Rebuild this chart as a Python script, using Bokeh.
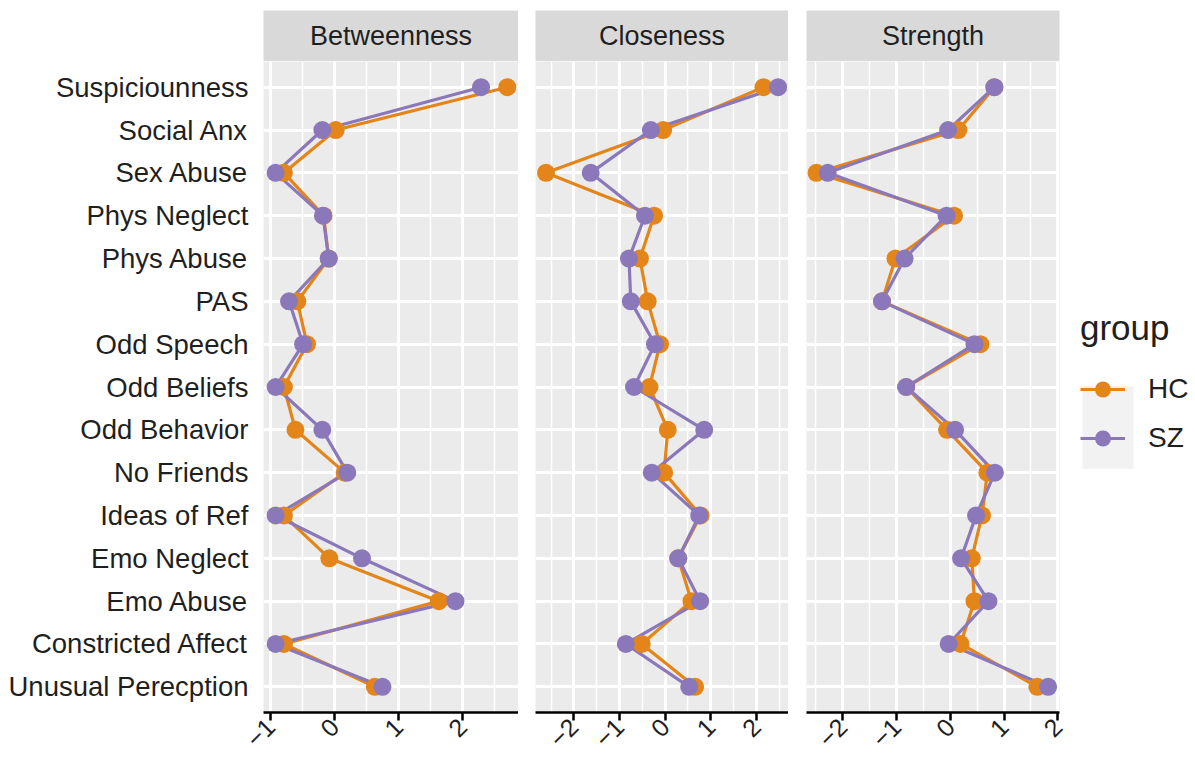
import math
from bokeh.plotting import figure
from bokeh.models import Range1d, FixedTicker, Legend, LegendItem, ColumnDataSource
from bokeh.layouts import column, row
from bokeh.embed import file_html
from bokeh.resources import INLINE
from bokeh.core.properties import value

# ---------------- data ----------------
nodes = ["Suspiciounness", "Social Anx", "Sex Abuse", "Phys Neglect", "Phys Abuse",
         "PAS", "Odd Speech", "Odd Beliefs", "Odd Behavior", "No Friends",
         "Ideas of Ref", "Emo Neglect", "Emo Abuse", "Constricted Affect",
         "Unusual Perecption"]
measures = ["Betweenness", "Closeness", "Strength"]
groups = ["HC", "SZ"]

betweenness_hc = [2.70, 0.02, -0.79, -0.17, -0.09, -0.58, -0.43, -0.79, -0.61, 0.16, -0.79, -0.08, 1.63, -0.79, 0.63]
betweenness_sz = [2.29, -0.19, -0.92, -0.18, -0.09, -0.71, -0.49, -0.92, -0.19, 0.20, -0.92, 0.43, 1.89, -0.92, 0.75]
closeness_hc = [2.16, -0.04, -2.61, -0.24, -0.55, -0.38, -0.11, -0.34, 0.06, -0.02, 0.78, 0.29, 0.58, -0.51, 0.66]
closeness_sz = [2.48, -0.31, -1.63, -0.44, -0.79, -0.75, -0.22, -0.68, 0.86, -0.29, 0.75, 0.29, 0.77, -0.86, 0.53]
strength_hc = [0.82, 0.15, -2.49, 0.07, -1.02, -1.27, 0.56, -0.82, -0.06, 0.69, 0.59, 0.40, 0.45, 0.19, 1.62]
strength_sz = [0.82, -0.04, -2.28, -0.07, -0.85, -1.27, 0.45, -0.82, 0.09, 0.83, 0.48, 0.20, 0.71, -0.03, 1.82]

ticks_betweenness = [-1, 0, 1, 2]
minor_betweenness = [-0.5, 0.5, 1.5, 2.5]
ticks_other = [-2, -1, 0, 1, 2]
minor_other = [-2.5, -1.5, -0.5, 0.5, 1.5, 2.5]

# ---------------- style ----------------
FONT = "Liberation Sans"
TEXT = "#1f1f1f"
PANEL_BG = "#EBEBEB"
STRIP_BG = "#D9D9D9"
KEY_BG = "#F2F2F2"
COLORS = {"HC": "#E38518", "SZ": "#8A78BA"}

n = len(nodes)
ypos = [n - 1 - i for i in range(n)]

STRIP_TOP = 10
STRIP_H = 51
FRAME_H = 658
BOTTOM = 39
PAD_RIGHT_LAST = 10
LEGEND_W = 126

panels = [
    dict(name=measures[0], hc=betweenness_hc, sz=betweenness_sz, xr=(-1.109, 2.875),
         ticks=ticks_betweenness, minor=minor_betweenness, left=263, frame_w=255, right=0),
    dict(name=measures[1], hc=closeness_hc, sz=closeness_sz, xr=(-2.84, 2.708),
         ticks=ticks_other, minor=minor_other, left=17, frame_w=253, right=0),
    dict(name=measures[2], hc=strength_hc, sz=strength_sz, xr=(-2.675, 2.032),
         ticks=ticks_other, minor=minor_other, left=18, frame_w=253, right=PAD_RIGHT_LAST),
]

strip_figs = []
panel_figs = []
for i, spec in enumerate(panels):
    w = spec["left"] + spec["frame_w"] + spec["right"]
    # strip header
    s = figure(width=w, height=STRIP_TOP + STRIP_H, x_range=Range1d(0, 1), y_range=Range1d(0, 1),
               output_backend="svg", toolbar_location=None,
               min_border_left=spec["left"], min_border_right=spec["right"],
               min_border_top=STRIP_TOP, min_border_bottom=0)
    s.axis.visible = False
    s.grid.visible = False
    s.outline_line_color = None
    s.background_fill_color = STRIP_BG
    s.text(x=[0.5], y=[0.5], text=[spec["name"]], text_align="center", text_baseline="middle",
           text_font=value(FONT), text_font_size="27px", text_color=TEXT)
    strip_figs.append(s)

    # panel
    p = figure(width=w, height=FRAME_H + BOTTOM,
               x_range=Range1d(*spec["xr"]), y_range=Range1d(-0.6, n - 0.4),
               output_backend="svg", toolbar_location=None,
               min_border_left=spec["left"], min_border_right=spec["right"],
               min_border_top=0, min_border_bottom=BOTTOM)
    p.background_fill_color = PANEL_BG
    p.border_fill_color = "white"
    p.outline_line_color = None

    xt = FixedTicker(ticks=spec["ticks"], minor_ticks=spec["minor"])
    p.xaxis.ticker = xt
    p.xgrid.ticker = xt
    yt = FixedTicker(ticks=ypos)
    p.yaxis.ticker = yt
    p.ygrid.ticker = yt

    p.xgrid.grid_line_color = "white"
    p.xgrid.grid_line_width = 3
    p.xgrid.minor_grid_line_color = "white"
    p.xgrid.minor_grid_line_width = 1.5
    p.ygrid.grid_line_color = "white"
    p.ygrid.grid_line_width = 3

    ax = p.xaxis[0]
    ax.axis_line_color = "black"
    ax.axis_line_width = 2.5
    ax.major_tick_line_color = "black"
    ax.major_tick_line_width = 2.5
    ax.major_tick_out = 8
    ax.major_tick_in = 0
    ax.minor_tick_line_color = None
    ax.major_label_orientation = math.pi / 4
    ax.major_label_standoff = 2
    ax.major_label_text_font = FONT
    ax.major_label_text_font_size = "25px"
    ax.major_label_text_color = TEXT

    ay = p.yaxis[0]
    if i == 0:
        ay.major_label_overrides = {yv: name for yv, name in zip(ypos, nodes)}
        ay.axis_line_color = None
        ay.major_tick_line_color = None
        ay.minor_tick_line_color = None
        ay.major_tick_out = 0
        ay.major_tick_in = 0
        ay.major_label_standoff = 15
        ay.major_label_text_font = FONT
        ay.major_label_text_font_size = "27.5px"
        ay.major_label_text_color = TEXT
    else:
        ay.visible = False

    src = ColumnDataSource(dict(y=ypos, hc=spec["hc"], sz=spec["sz"]))
    p.line(x="hc", y="y", source=src, line_color=COLORS["HC"], line_width=3.2)
    p.line(x="sz", y="y", source=src, line_color=COLORS["SZ"], line_width=3.2)
    p.scatter(x="hc", y="y", source=src, size=18, fill_color=COLORS["HC"], line_color=None)
    p.scatter(x="sz", y="y", source=src, size=18, fill_color=COLORS["SZ"], line_color=None)
    panel_figs.append(p)

# ---------------- legend column ----------------
LG_H = FRAME_H + BOTTOM
LEG_X, LEG_Y, LEG_PAD = 11, 254, 5
GLYPH_W, ITEM_H, ITEM_SP = 45, 40, 9

lg = figure(width=LEGEND_W, height=LG_H, x_range=Range1d(0, LEGEND_W), y_range=Range1d(0, LG_H),
            output_backend="svg", toolbar_location=None,
            min_border_left=0, min_border_right=0, min_border_top=0, min_border_bottom=0)
lg.axis.visible = False
lg.grid.visible = False
lg.outline_line_color = None
lg.background_fill_color = "white"

# light grey key background (as ggplot legend keys)
key_left = LEG_X + LEG_PAD - 3
key_right = LEG_X + LEG_PAD + GLYPH_W + 3
key_bottom = LEG_Y + LEG_PAD + 2
key_top = LEG_Y + LEG_PAD + 2 * ITEM_H + ITEM_SP + 1
lg.quad(left=[key_left], right=[key_right], bottom=[key_bottom], top=[key_top],
        fill_color=KEY_BG, line_color=None)

items = []
for g in groups:
    key_src = ColumnDataSource(dict(x=[float("nan")], y=[float("nan")]))
    r_line = lg.line(x="x", y="y", source=key_src, line_color=COLORS[g], line_width=3.2)
    r_pt = lg.scatter(x="x", y="y", source=key_src, size=18, fill_color=COLORS[g], line_color=None)
    items.append(LegendItem(label=g, renderers=[r_line, r_pt], index=0))
legend = Legend(items=items, title="group", location=(LEG_X, LEG_Y))
legend.title_text_font = FONT
legend.title_text_font_size = "35px"
legend.title_text_font_style = "normal"
legend.title_text_color = TEXT
legend.title_standoff = 21
legend.label_text_font = FONT
legend.label_text_font_size = "28px"
legend.label_text_color = TEXT
legend.label_standoff = 23
legend.glyph_width = GLYPH_W
legend.glyph_height = ITEM_H
legend.label_height = ITEM_H
legend.spacing = ITEM_SP
legend.margin = 0
legend.padding = LEG_PAD
legend.border_line_color = None
legend.background_fill_alpha = 0
lg.add_layout(legend, "center")

strip_spacer = figure(width=LEGEND_W, height=STRIP_TOP + STRIP_H, output_backend="svg",
                      toolbar_location=None, min_border=0, x_range=Range1d(0, 1), y_range=Range1d(0, 1))
strip_spacer.axis.visible = False
strip_spacer.grid.visible = False
strip_spacer.outline_line_color = None
strip_spacer.background_fill_color = "white"

layout = column(row(*strip_figs, strip_spacer), row(*panel_figs, lg))
open("out.html", "w").write(file_html(layout, INLINE))
